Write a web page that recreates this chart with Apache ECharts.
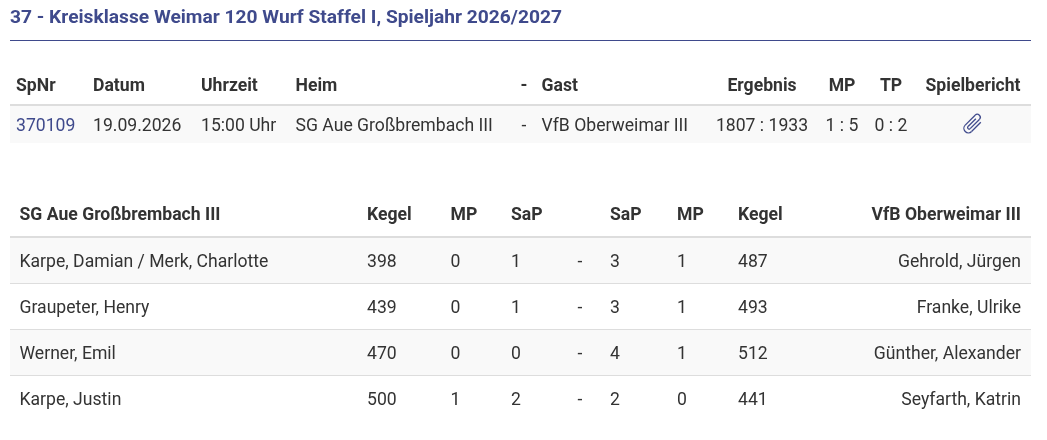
<!DOCTYPE html>
<html><head><meta charset="utf-8">
<style>html,body{margin:0;padding:0;background:#fff}#c{width:1047px;height:440px}</style>
<script src="https://cdn.jsdelivr.net/npm/echarts@6/dist/echarts.min.js"></script>
</head><body><div id="c"></div>
<script>
const titleText = "37 - Kreisklasse Weimar 120 Wurf Staffel I, Spieljahr 2026/2027";
const matchHeader = ["SpNr","Datum","Uhrzeit","Heim","-","Gast","Ergebnis","MP","TP","Spielbericht"];
const matchRow = ["370109","19.09.2026","15:00 Uhr","SG Aue Großbrembach III","-","VfB Oberweimar III","1807 : 1933","1 : 5","0 : 2",""];
const playerHeader = ["SG Aue Großbrembach III","Kegel","MP","SaP","","SaP","MP","Kegel","VfB Oberweimar III"];
const homePlayers = ["Karpe, Damian / Merk, Charlotte","Graupeter, Henry","Werner, Emil","Karpe, Justin"];
const homeKegel = [398,439,470,500];
const homeMP = [0,0,0,1];
const homeSaP = [1,1,0,2];
const awaySaP = [3,3,4,2];
const awayMP = [1,1,1,0];
const awayKegel = [487,493,512,441];
const awayPlayers = ["Gehrold, Jürgen","Franke, Ulrike","Günther, Alexander","Seyfarth, Katrin"];

const FONT = 'Roboto, sans-serif', TXT = '#333333', BLUE = '#3f4a8c';
const els = [];
function text(s,x,y,o={}){ els.push({type:'text',x,y,silent:true,style:{text:String(s),x:0,y:0,
  font:(o.w||400)+' '+(o.size||17.6)+'px '+FONT,fill:o.fill||TXT,textAlign:o.a||'left',textVerticalAlign:'middle'},z:5}); }
function rect(x,y,w,h,fill){ els.push({type:'rect',silent:true,shape:{x,y,width:w,height:h},style:{fill},z:1}); }

// title + rule
text(titleText,10,18,{w:700,size:19.2,fill:BLUE});
rect(10,40,1021,1,BLUE);

// match table
const mX=[16,93,201,295.5,524,541.5,762,842,891,973];
const mA=['left','left','left','left','center','left','center','center','center','center'];
rect(10,106,1021,37,'#f9f9f9');
rect(10,104,1021,2,'#dddddd');
matchHeader.forEach((s,i)=>text(s,mX[i],87,{w:700,a:mA[i]}));
matchRow.forEach((s,i)=>text(s,mX[i],126.5,{a:mA[i],fill:i===0?BLUE:TXT}));
// paperclip icon
const clipStyle={fill:'none',stroke:BLUE,lineWidth:1.3};
const clip=(o)=>Object.assign({z:6,silent:true,style:clipStyle},o);
els.push({type:'group',silent:true,x:973,y:123,rotation:Math.PI/4,children:[
  clip({type:'line',shape:{x1:-7,y1:5,x2:6,y2:5}}),
  clip({type:'arc',shape:{cx:-7,cy:0.5,r:4.5,startAngle:Math.PI/2,endAngle:3*Math.PI/2,clockwise:true}}),
  clip({type:'line',shape:{x1:-7,y1:-4,x2:7,y2:-4}}),
  clip({type:'arc',shape:{cx:7,cy:-1,r:3,startAngle:-Math.PI/2,endAngle:Math.PI/2,clockwise:true}}),
  clip({type:'line',shape:{x1:7,y1:2,x2:-6,y2:2}}),
  clip({type:'arc',shape:{cx:-6,cy:0.5,r:1.5,startAngle:Math.PI/2,endAngle:3*Math.PI/2,clockwise:true}}),
  clip({type:'line',shape:{x1:-6,y1:-1,x2:5,y2:-1}})
]});

// player table
const pX=[19.5,367,450.5,511,580,610,677,738,1021];
const pA=['left','left','left','left','center','left','left','left','right'];
const rowY=[262.5,308.5,354.5,400.5];
rect(10,238,1021,45,'#f9f9f9');
rect(10,330,1021,45,'#f9f9f9');
rect(10,236,1021,2,'#dddddd');
[283,329,375].forEach(y=>rect(10,y,1021,1,'#dddddd'));
playerHeader.forEach((s,i)=>{ if(s) text(s,pX[i],216,{w:700,a:pA[i]}); });
homePlayers.forEach((_,r)=>{
  [homePlayers[r],homeKegel[r],homeMP[r],homeSaP[r],'-',awaySaP[r],awayMP[r],awayKegel[r],awayPlayers[r]]
    .forEach((v,i)=>text(v,pX[i],rowY[r],{a:pA[i]}));
});

const chart = echarts.init(document.getElementById('c'),null,{renderer:'canvas'});
chart.setOption({animation:false,backgroundColor:'#fff',graphic:{elements:els}});
</script></body></html>
